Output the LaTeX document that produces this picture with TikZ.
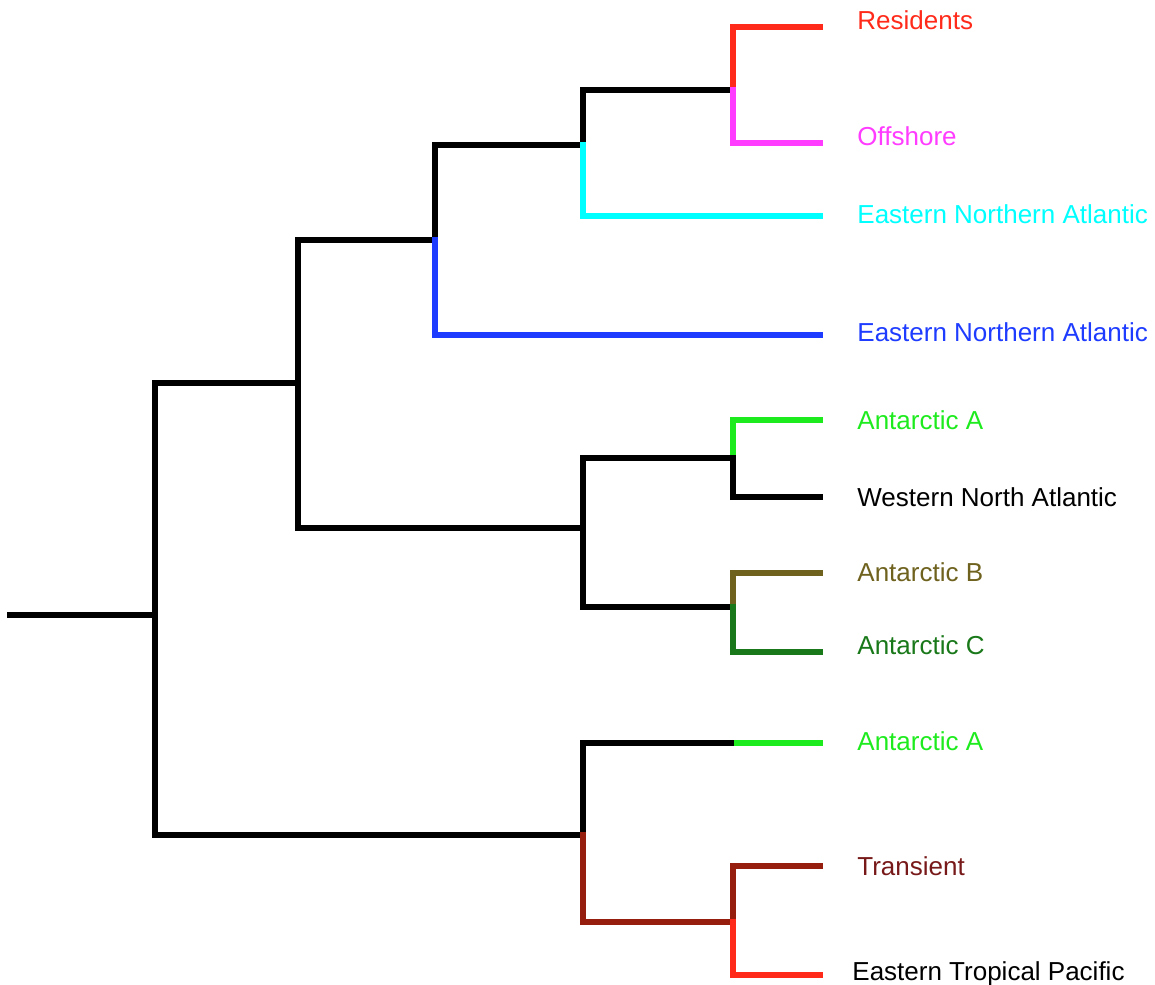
\documentclass[tikz,border=0pt]{standalone}
\usepackage{fontspec}
\setmainfont{Liberation Sans}
\usetikzlibrary{positioning}

\definecolor{resred}{RGB}{255,42,26}
\definecolor{offmag}{RGB}{255,60,255}
\definecolor{enacyan}{RGB}{0,255,255}
\definecolor{enablue}{RGB}{30,60,255}
\definecolor{antgreen}{RGB}{30,235,30}
\definecolor{antolive}{RGB}{110,98,30}
\definecolor{antdark}{RGB}{25,120,25}
\definecolor{trbrown}{RGB}{150,30,15}
\definecolor{trlabel}{RGB}{120,25,25}

\begin{document}
\begin{tikzpicture}[x=0.5pt,y=-0.5pt]

    \tikzset{
      Branch/.style = { line width=3pt, line cap=rect },
      Leaf/.style   = { anchor=base west, xshift=18.5pt, yshift=-4.5pt,
                        inner sep=0pt, font=\fontsize{13}{15}\selectfont } }

    \useasboundingbox (0,0) rectangle (1155,984);

      % inner vertices
      \coordinate (root) at (10,615);
      \coordinate (r) at (155,615);
      \coordinate (a) at (298,383);
      \coordinate (b) at (435,240);
      \coordinate (c) at (583,145);
      \coordinate (d) at (733,90);
      \coordinate (m) at (583,528);
      \coordinate (e) at (733,458);
      \coordinate (f) at (733,607);
      \coordinate (g) at (583,835);
      \coordinate (gk) at (737,743);
      \coordinate (h) at (733,922);

      % tips
      \coordinate (res) at (820,27);
      \coordinate (off) at (820,143);
      \coordinate (enaA) at (820,216);
      \coordinate (enaB) at (820,335);
      \coordinate (antA) at (820,420);
      \coordinate (wna) at (820,497);
      \coordinate (antB) at (820,573);
      \coordinate (antC) at (820,652);
      \coordinate (antAA) at (820,743);
      \coordinate (tra) at (820,866);
      \coordinate (etp) at (820,975);

      \draw[Branch] (root) -- (r);
      \draw[Branch] (r) |- (a);
      \draw[Branch] (r) |- (g);
      \draw[Branch] (a) |- (b);
      \draw[Branch] (a) |- (m);
      \draw[Branch] (b) |- (c);
      \draw[Branch, enablue] (b) |- (enaB);
      \draw[Branch] (c) |- (d);
      \draw[Branch, enacyan] (c) |- (enaA);
      \draw[Branch, resred] (d) |- (res);
      \draw[Branch, offmag] (d) |- (off);

      \draw[Branch] (m) |- (e);
      \draw[Branch] (m) |- (f);
      \draw[Branch, antgreen] (e) |- (antA);
      \draw[Branch] (e) |- (wna);
      \draw[Branch, antolive] (f) |- (antB);
      \draw[Branch, antdark] (f) |- (antC);

      \draw[Branch] (g) |- (gk);
      \draw[Branch, antgreen] (gk) -- (antAA);
      \draw[Branch, trbrown] (g) |- (h);
      \draw[Branch, trbrown] (h) |- (tra);
      \draw[Branch, resred] (h) |- (etp);

    \node[Leaf, resred, yshift=3pt] (lres) at (res) {Residents};
    \node[Leaf, offmag, yshift=3pt] (loff) at (off) {Offshore};
    \node[Leaf, enacyan, yshift=1pt] (lenaA) at (enaA) {Eastern Northern Atlantic};
    \node[Leaf, enablue, yshift=1.5pt] (lenaB) at (enaB) {Eastern Northern Atlantic};
    \node[Leaf, antgreen] (lantA) at (antA) {Antarctic A};
    \node[Leaf] (lwna) at (wna) {Western North Atlantic};
    \node[Leaf, antolive, yshift=0.5pt] (lantB) at (antB) {Antarctic B};
    \node[Leaf, antdark, yshift=3.5pt] (lantC) at (antC) {Antarctic C};
    \node[Leaf, antgreen, yshift=1pt] (lantAA) at (antAA) {Antarctic A};
    \node[Leaf, trlabel] (ltra) at (tra) {Transient};
    \node[Leaf, yshift=2pt, xshift=-2.5pt] (letp) at (etp) {Eastern Tropical Pacific};
    \end{tikzpicture}
\end{document}
